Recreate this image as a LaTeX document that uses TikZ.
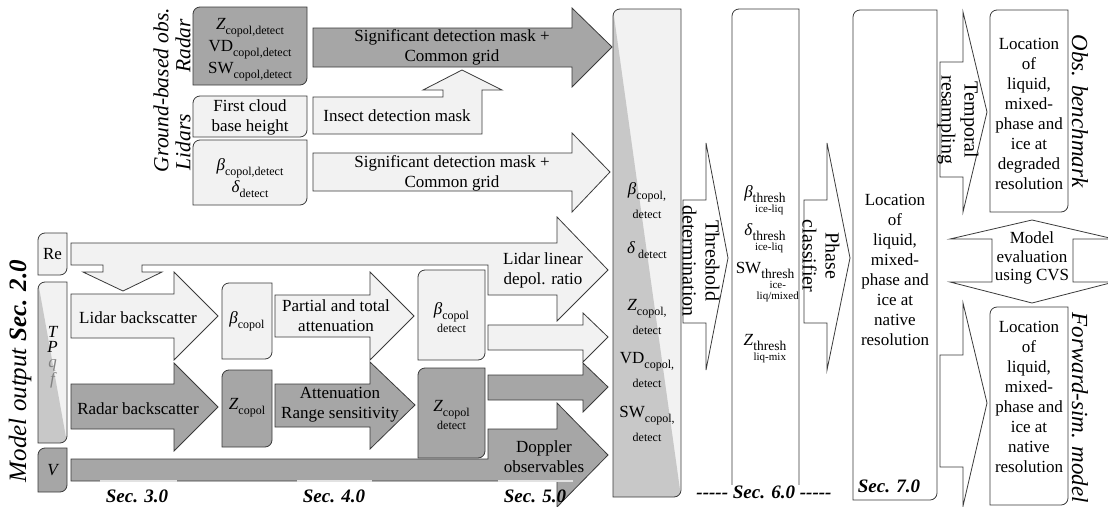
\documentclass[tikz,border=0pt]{standalone}
\usepackage{fontspec}
\setmainfont{Liberation Serif}
\usepackage{tikz}
\definecolor{radarGray}{HTML}{A6A6A6}
\definecolor{lidarGray}{HTML}{F2F2F2}
\definecolor{shadeGray}{HTML}{C8C8C8}
\definecolor{edgeGray}{HTML}{3A3A3A}
\definecolor{faintGray}{HTML}{808080}
\definecolor{stripGray}{HTML}{E2E2E2}
\newsavebox{\stkbox}
\newcommand{\sbs}[1]{\raisebox{-0.28em}{\fontsize{12}{12}\selectfont #1}}
\newcommand{\detline}{{\fontsize{12}{12}\selectfont detect}}
\newcommand{\stkline}[1]{\hbox to\wd\stkbox{\hss\fontsize{11}{11}\selectfont #1\hss}}
\newcommand{\stk}[2]{\sbox\stkbox{\fontsize{13.5}{13}\selectfont #1}\raisebox{-0.3em}{\vtop{\baselineskip=10.5pt\lineskiplimit=-20pt\copy\stkbox #2}}}
\newcommand{\kutu}[5]{\draw[boxLine,fill=#5] ({(#1+#3)/2},#2) [sharp corners] -- (#3,#2) [rounded corners=7] -- (#3,#4) [sharp corners] -- (#1,#4) [rounded corners=7] -- (#1,#2) [sharp corners] -- cycle;}
\newcommand{\golgeKutu}[4]{%
\begin{scope}
\clip ({(#1+#3)/2},#2) [sharp corners] -- (#3,#2) [rounded corners=7] -- (#3,#4) [sharp corners] -- (#1,#4) [rounded corners=7] -- (#1,#2) [sharp corners] -- cycle;
\fill[lidarGray] (#1,#2) rectangle (#3,#4);
\fill[shadeGray] (#1,#2) -- (#1,#4) -- (#3,#4) -- cycle;
\end{scope}
\draw[boxLine] ({(#1+#3)/2},#2) [sharp corners] -- (#3,#2) [rounded corners=7] -- (#3,#4) [sharp corners] -- (#1,#4) [rounded corners=7] -- (#1,#2) [sharp corners] -- cycle;}

\begin{document}
\begin{tikzpicture}[x=1pt,y=-1pt,
  boxLine/.style={draw=edgeGray,line width=0.8pt},
  lbl/.style={font=\fontsize{17}{20}\selectfont,align=center,inner sep=0pt},
  sym/.style={font=\fontsize{17}{20}\selectfont,inner sep=0pt},
  turnLbl/.style={font=\fontsize{20}{23}\selectfont,align=center,inner sep=0pt,rotate=-90},
  sideLbl/.style={font=\fontsize{21.5}{24}\selectfont\itshape,inner sep=0pt},
  secLbl/.style={font=\fontsize{19}{22}\selectfont\bfseries\itshape,inner sep=1pt}]
\useasboundingbox (0,0) rectangle (1108,506);
\clip (0,0) rectangle (1108,506);

\kutu{193}{7}{307}{85}{radarGray}
\kutu{193}{96}{307}{137}{lidarGray}
\kutu{193}{140}{307}{205}{lidarGray}
\kutu{38}{233}{67}{275}{lidarGray}
\golgeKutu{38}{282}{67}{443}
\kutu{38}{448}{67}{492}{radarGray}
\kutu{222}{283}{272}{359}{lidarGray}
\kutu{222}{370}{272}{447}{radarGray}
\kutu{418}{270}{485}{360}{lidarGray}
\kutu{418}{368}{485}{458}{radarGray}
\golgeKutu{613}{9}{681}{497}
\kutu{732}{9}{799}{497}{white}
\kutu{853}{10}{937}{500}{white}
\kutu{990}{10}{1068}{212}{white}
\kutu{990}{307}{1068}{505}{white}

\draw[boxLine,fill=radarGray] (313,28) -- (572,28) -- (572,8) -- (612,47) -- (572,87) -- (572,67) -- (313,67) -- cycle;
\draw[boxLine,fill=lidarGray] (313,97) -- (443,97) -- (443,90) -- (423,90) -- (462,70) -- (502,90) -- (482,90) -- (482,134) -- (313,134) -- cycle;
\draw[boxLine,fill=lidarGray] (313,153) -- (572,153) -- (572,133) -- (610,172) -- (572,212) -- (572,191) -- (313,191) -- cycle;
\draw[boxLine,fill=lidarGray] (71,243) -- (557,243) -- (557,217) -- (608,270) -- (557,321) -- (557,295) -- (488,295) -- (488,265) -- (142,265) -- (142,272) -- (162,272) -- (123,291) -- (83,272) -- (103,272) -- (103,265) -- (71,265) -- cycle;
\draw[boxLine,fill=lidarGray] (71,294) -- (174,294) -- (174,272) -- (218,316) -- (174,360) -- (174,338) -- (71,338) -- cycle;
\draw[boxLine,fill=radarGray] (71,384) -- (174,384) -- (174,363) -- (218,407) -- (174,451) -- (174,429) -- (71,429) -- cycle;
\draw[boxLine,fill=lidarGray] (275,295) -- (370,295) -- (370,272) -- (414,316) -- (370,360) -- (370,337) -- (275,337) -- cycle;
\draw[boxLine,fill=radarGray] (275,384) -- (370,384) -- (370,362) -- (415,405) -- (370,449) -- (370,427) -- (275,427) -- cycle;
\draw[boxLine,fill=lidarGray] (488,325) -- (583,325) -- (583,313) -- (608,337) -- (583,362) -- (583,350) -- (488,350) -- cycle;
\draw[boxLine,fill=radarGray] (488,375) -- (583,375) -- (583,363) -- (608,387) -- (583,412) -- (583,400) -- (488,400) -- cycle;
\draw[boxLine,fill=radarGray] (71,459) -- (488,459) -- (488,429) -- (557,429) -- (557,403) -- (608,455) -- (557,507) -- (557,481) -- (71,481) -- cycle;
\draw[boxLine,fill=white] (683,200) -- (706,200) -- (706,143) -- (728,258) -- (706,370) -- (706,323) -- (683,323) -- cycle;
\draw[boxLine,fill=white] (804,200) -- (827,200) -- (827,143) -- (850,258) -- (827,370) -- (827,323) -- (804,323) -- cycle;
\draw[boxLine,fill=white] (940,62) -- (963,62) -- (963,12) -- (987,112) -- (963,212) -- (963,177) -- (940,177) -- cycle;
\draw[boxLine,fill=white] (940,355) -- (963,355) -- (963,303) -- (987,403) -- (963,506) -- (963,467) -- (940,467) -- cycle;
\draw[boxLine,fill=white] (992,239) -- (950,239) -- (1032,220) -- (1114,239) -- (1073,239) -- (1073,282) -- (1114,282) -- (1032,303) -- (950,282) -- (992,282) -- cycle;
\foreach \a/\b in {100/177,297/372,498/573} \draw[stripGray,line width=2.5pt] (\a,481) -- (\b,481);

\node[sideLbl,rotate=90] (groundLbl) at (161,90) {Ground-based obs.};
\node[sideLbl,rotate=90] (radarLbl) at (183,46) {Radar};
\node[sideLbl,rotate=90] (lidarLbl) at (183,142) {Lidars};
\node[sideLbl,rotate=90,font=\fontsize{25}{28}\selectfont\itshape] (modelLbl) at (20,371) {Model output \textbf{Sec. 2.0}};
\node[sideLbl,rotate=-90,font=\fontsize{23}{26}\selectfont\itshape] (obsLbl) at (1080,111) {Obs. benchmark};
\node[sideLbl,rotate=-90,font=\fontsize{23}{26}\selectfont\itshape] (fwdLbl) at (1080,408) {Forward-sim. model};

\node[lbl] (radarObs) at (250,50) {\textit{Z}\sbs{copol,detect}\\[2pt]VD\sbs{copol,detect}\\[2pt]SW\sbs{copol,detect}};
\node[lbl] (cloudBase) at (250,117) {First cloud\\base height};
\node[lbl] (lidarObs) at (250,178) {\textit{β}\sbs{copol,detect}\\[2pt]\textit{δ}\sbs{detect}};
\node[lbl] (reIn) at (52.5,254) {Re};
\node[lbl,font=\fontsize{17}{15}\selectfont\itshape] (stateIn) at (52.5,357) {T\\P\\\textcolor{faintGray}{q}\\\textcolor{faintGray}{f}};
\node[lbl,font=\fontsize{17}{20}\selectfont\itshape] (vIn) at (52.5,470) {V};
\node[lbl] (betaCo) at (247,321) {\textit{β}\sbs{copol}};
\node[lbl] (zCo) at (247,408) {\textit{Z}\sbs{copol}};
\node[lbl] (betaDet) at (451.5,318) {\textit{β}\sbs{copol}\\[-2pt]\detline};
\node[lbl] (zDet) at (451.5,415) {\textit{Z}\sbs{copol}\\[-2pt]\detline};

\node[lbl] (sigRadar) at (452,47) {Significant detection mask +\\Common grid};
\node[lbl] (insectTxt) at (397,116) {Insect detection mask};
\node[lbl] (sigLidar) at (452,173) {Significant detection mask +\\Common grid};
\node[lbl] (depolTxt) at (543,270) {Lidar linear\\depol. ratio};
\node[lbl] (lidarBs) at (138,318) {Lidar backscatter};
\node[lbl] (radarBs) at (138,409) {Radar backscatter};
\node[lbl] (attTxt) at (336,316) {Partial and total\\attenuation};
\node[lbl] (rangeTxt) at (340,405) {Attenuation\\Range sensitivity};
\node[lbl] (dopTxt) at (544,457) {Doppler\\observables};

\node[lbl] (colBeta) at (647,201) {\textit{β}\sbs{copol,}\\[4pt]\detline};
\node[lbl] (colDelta) at (647,250) {\textit{δ}\,\sbs{detect}};
\node[lbl] (colZ) at (647,317) {\textit{Z}\sbs{copol,}\\[4pt]\detline};
\node[lbl] (colVD) at (647,370) {VD\sbs{copol,}\\[4pt]\detline};
\node[lbl] (colSW) at (647,424) {SW\sbs{copol,}\\[4pt]\detline};

\node[turnLbl] (thrTxt) at (701,261) {Threshold\\determination};
\node[sym,anchor=base] (thrBeta) at (765,197) {\textit{β}\stk{thresh}{\stkline{ice-liq}}};
\node[sym,anchor=base] (thrDelta) at (765,235) {\textit{δ}\stk{thresh}{\stkline{ice-liq}}};
\node[sym,anchor=base] (thrSW) at (765,273) {SW\stk{thresh}{\stkline{ice-}\stkline{liq/mixed}}};
\node[sym,anchor=base] (thrZ) at (765,345) {\textit{Z}\stk{thresh}{\stkline{liq-mix}}};
\node[turnLbl] (phaseTxt) at (821,256) {Phase\\classifier};

\node[lbl] (nativeLoc) at (895,270) {Location\\of\\liquid,\\mixed-\\phase and\\ice at\\native\\resolution};
\node[turnLbl] (tempTxt) at (958,120) {Temporal\\resampling};
\node[lbl] (obsLoc) at (1029,114) {Location\\of\\liquid,\\mixed-\\phase and\\ice at\\degraded\\resolution};
\node[lbl,font=\fontsize{17}{18.5}\selectfont] (evalTxt) at (1032,258) {Model\\evaluation\\using CVS};
\node[lbl] (fwdLoc) at (1029,397) {Location\\of\\liquid,\\mixed-\\phase and\\ice at\\native\\resolution};

\foreach \x/\n in {137/3,334/4,535/5} \node[secLbl] (sec\n) at (\x,496) {Sec. \n.0};
\node[secLbl,fill=white] (sec6) at (764,492) {{-}{-}{-}{-}{-} Sec. 6.0 {-}{-}{-}{-}{-}};
\node[secLbl] (sec7) at (889,486) {Sec. 7.0};
\end{tikzpicture}
\end{document}
